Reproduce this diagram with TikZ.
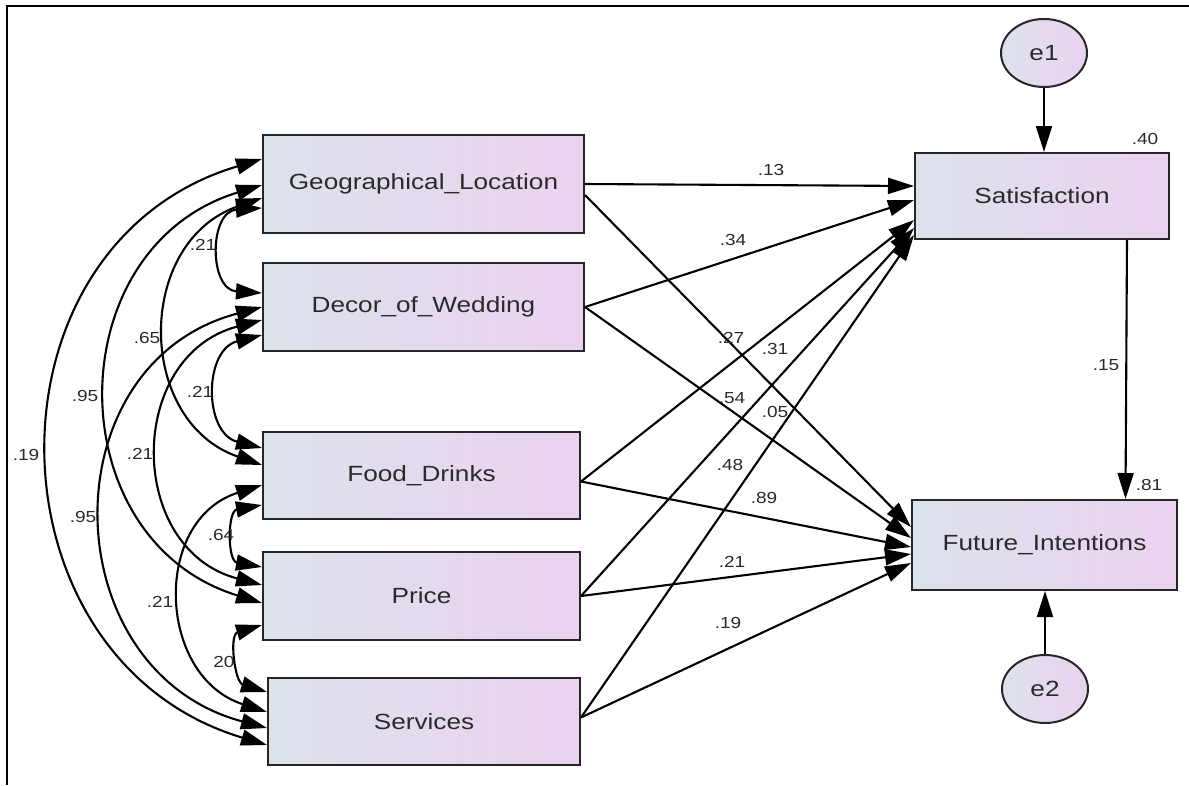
\documentclass[tikz,border=0pt]{standalone}
\usepackage{fontspec}
\usetikzlibrary{arrows.meta,calc,shapes.geometric}
\newfontfamily\amos[FakeStretch=1.19]{Liberation Sans}
\definecolor{boxL}{HTML}{DCE2EA}
\definecolor{boxR}{HTML}{EBD2F1}
\definecolor{txt}{HTML}{2A2A2A}
\begin{document}
\begin{tikzpicture}[x=1pt,y=-1pt,
  var/.style={draw=black!85,line width=2pt,left color=boxL,right color=boxR,inner sep=0pt,
    font=\amos\fontsize{22}{26}\selectfont,text=txt},
  err/.style={ellipse,draw=black!85,line width=2pt,left color=boxL,right color=boxR,inner sep=0pt,
    minimum width=86pt,minimum height=68pt,font=\amos\fontsize{22}{26}\selectfont,text=txt},
  lab/.style={font=\amos\fontsize{16}{18}\selectfont,text=txt,inner sep=0pt},
  arr/.style={-{Triangle[length=26pt,width=16pt]},line width=2.1pt},
  cov/.style={{Triangle[length=26pt,width=16pt]}-{Triangle[length=26pt,width=16pt]},line width=2.1pt}]
\useasboundingbox (0,0) rectangle (1189,785);
\draw[line width=2pt] (7,785) -- (7,6) -- (1189,6);

% variables
\node[var,minimum width=321pt,minimum height=98pt] (geo) at (423.5,184) {Geographical\_Location};
\node[var,minimum width=321pt,minimum height=88pt] (dec) at (423.5,307) {Decor\_of\_Wedding};
\node[var,minimum width=317pt,minimum height=87pt] (food) at (421.5,475.5) {Food\_Drinks};
\node[var,minimum width=317pt,minimum height=88pt] (price) at (421.5,596) {Price};
\node[var,minimum width=312pt,minimum height=87pt] (serv) at (424,721.5) {Services};
\node[var,minimum width=254pt,minimum height=86pt] (sat) at (1042,196) {Satisfaction};
\node[var,minimum width=265pt,minimum height=90pt] (fut) at (1044.5,545) {Future\_Intentions};
\node[err] (e1) at (1044,53) {e1};
\node[err] (e2) at (1045,689) {e2};

% regression paths
\draw[arr] (geo.east) -- ([yshift=10pt]sat.west);
\draw[arr] ([yshift=-11pt]geo.east) -- ([yshift=18pt]fut.west);
\draw[arr] (dec.east) -- ([yshift=-4pt]sat.west);
\draw[arr] (dec.east) -- ([yshift=7pt]fut.west);
\draw[arr] ([yshift=-6pt]food.east) -- ([yshift=-24pt]sat.west);
\draw[arr] ([yshift=-6pt]food.east) -- ([yshift=-2pt]fut.west);
\draw[arr] (price.east) -- ([yshift=-32pt]sat.west);
\draw[arr] (price.east) -- ([yshift=-9pt]fut.west);
\draw[arr] ([yshift=4pt]serv.east) -- ([yshift=-39pt]sat.west);
\draw[arr] ([yshift=4pt]serv.east) -- ([yshift=-18pt]fut.west);
\draw[arr] ([xshift=85pt]sat.south) -- ([xshift=81pt]fut.north);
\draw[arr] (e1.south) -- (e1.south |- sat.north);
\draw[arr] (e2.north) -- (e2.north |- fut.south);

% covariances
\draw[cov] ([yshift=-24pt]geo.west) .. controls (208.7,211.3) and (208.7,289.7) .. ([yshift=14pt]dec.west);
\draw[cov] ([yshift=-28pt]dec.west) .. controls (203.4,349.8) and (203.4,433.2) .. ([yshift=27.5pt]food.west);
\draw[cov] ([yshift=-29.5pt]food.west) .. controls (227.3,511.1) and (227.3,560.9) .. ([yshift=29pt]price.west);
\draw[cov] ([yshift=-29pt]price.west) .. controls (228.8,634.9) and (234.8,682.1) .. ([yshift=29.5pt]serv.west);
\draw[cov] ([yshift=-14pt]geo.west) .. controls (135.3,241.9) and (135.3,421.1) .. ([yshift=10.5pt]food.west);
\draw[cov] ([yshift=-13pt]dec.west) .. controls (125.9,355.9) and (125.9,549.1) .. ([yshift=11pt]price.west);
\draw[cov] ([yshift=-9.5pt]food.west) .. controls (151.4,520.3) and (157.4,676.7) .. ([yshift=9.5pt]serv.west);
\draw[cov] ([yshift=-1pt]geo.west) .. controls (57,247.9) and (57,540.1) .. ([yshift=-7pt]price.west);
\draw[cov] (dec.west) .. controls (47,364) and (53,671) .. ([yshift=-6.5pt]serv.west);
\draw[cov] ([yshift=25pt]geo.west) .. controls (-24,244.2) and (-18,659.8) .. ([yshift=-23.5pt]serv.west);

% covariance labels
\node[lab] (c1) at (203,245) {.21};
\node[lab] (c2) at (200,392) {.21};
\node[lab] (c3) at (221,535) {.64};
\node[lab] (c4) at (224,662) {20};
\node[lab] (c5) at (147,338) {.65};
\node[lab] (c6) at (140,454) {.21};
\node[lab] (c7) at (160,602) {.21};
\node[lab] (c8) at (85,396) {.95};
\node[lab] (c9) at (83,517) {.95};
\node[lab] (c10) at (26,455) {.19};

% path labels
\node[lab] (p1) at (771,170) {.13};
\node[lab] (p2) at (733,240) {.34};
\node[lab] (p3) at (731,338) {.27};
\node[lab] (p4) at (775,349) {.31};
\node[lab] (p5) at (732,398) {.54};
\node[lab] (p6) at (775,412) {.05};
\node[lab] (p7) at (730,465) {.48};
\node[lab] (p8) at (764,498) {.89};
\node[lab] (p9) at (732,562) {.21};
\node[lab] (p10) at (728,623) {.19};
\node[lab] (p11) at (1106,365) {.15};
\node[lab] (r1) at (1145,139) {.40};
\node[lab] (r2) at (1149,485) {.81};
\end{tikzpicture}
\end{document}
